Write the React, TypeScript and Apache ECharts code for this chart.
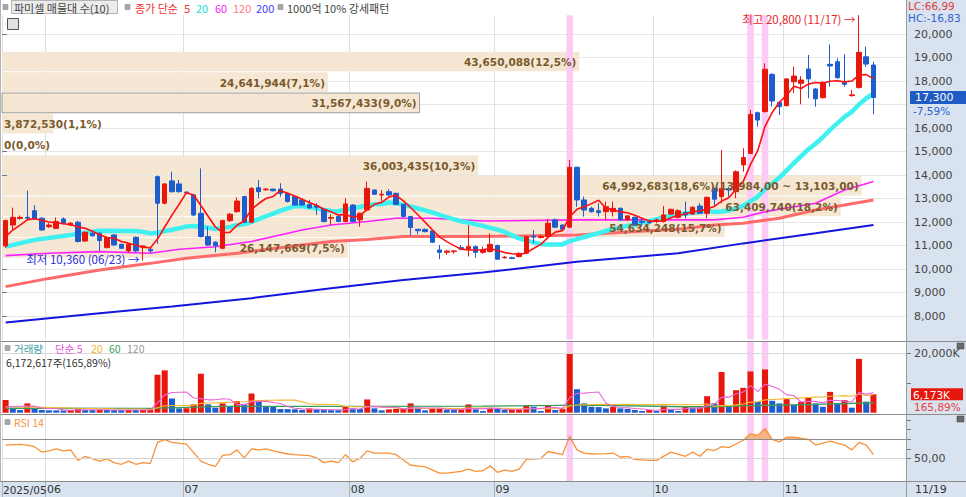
import React, { useEffect, useRef } from "react";
import * as echarts from "echarts";

// ---------- dates ----------
const YEAR = 2025;
const months = [5, 6, 7, 8, 9, 10, 11];
const tradingDays = [
  [23, 26, 27, 28, 29, 30],
  [2, 4, 5, 9, 10, 11, 12, 13, 16, 17, 18, 19, 20, 23, 24, 25, 26, 27, 30],
  [1, 2, 3, 4, 7, 8, 9, 10, 11, 14, 15, 16, 17, 18, 21, 22, 23, 24, 25, 28, 29, 30, 31],
  [1, 4, 5, 6, 7, 8, 11, 12, 13, 14, 18, 19, 20, 21, 22, 25, 26, 27, 28, 29],
  [1, 2, 3, 4, 5, 8, 9, 10, 11, 12, 15, 16, 17, 18, 19, 22, 23, 24, 25, 26, 29, 30],
  [1, 2, 10, 13, 14, 15, 16, 17, 20, 21, 22, 23, 24, 27, 28, 29, 30, 31],
  [3, 4, 5, 6, 7, 10, 11, 12, 13, 14, 17, 18, 19],
];
const EMPTY_SLOTS = 4;
const patternDays = ["09/15", "10/27", "10/29"];

// ---------- prices ----------
const opens = [10980,11870,12150,12200,12480,12160,11800,11730,12130,11870, 11990,11190,11520,11520,10910,11450,11050,10770,11350,10910, 10840,13930,12800,13750,13620,13270,13150,12370,11380,11140, 10880,12060,12440,13080,11990,13460,13370,13400,13400,13220, 13080,12940,12750,12700,12540,12160,12230,12020,12720,12090, 12510,13360,13150,13290,13220,12750,12230,11690,11690,11620, 10810,10710,10740,10910,10850,10950,10710,10740,11000,10480, 10480,10530,10670,11400,11340,11380,12090,11870,11780,14330, 12940,12580,12480,12440,12440,12580,12090,12200,12030,12000, 12030,12020,12340,12200,12400,12340,12680,12370,13430,13080, 13420,13290,14430,14920,16650,16700,18280,17090,16950,17970, 17900,18510,17660,17290,18710,18820,17930,17380,17720,19030, 18680];
const closes = [12060,12200,12200,12160,12120,11660,11870,12020,11950,11950, 11170,11560,11410,11210,11340,11020,10880,11050,10770,10980, 10770,12800,13620,13290,13290,13240,12300,11380,11020,11000, 12060,12330,12890,11990,13430,13290,13400,13330,13220,12870, 12720,12720,12610,12630,12020,12190,12020,12770,12020,12370, 13430,13180,13180,13150,12750,12230,11770,11630,11590,11140, 10710,10760,10770,10850,10950,10710,10810,11050,10420,10500, 10450,10670,11380,11360,11380,11950,11780,11690,14330,12940, 12510,12440,12400,12650,12580,12090,12260,11870,11990,11970, 12090,12300,12540,12480,12300,12630,12370,13050,12970,13430, 13360,14140,14740,16580,16340,18500,17150,16910,18090,18210, 18040,18090,17240,17940,18640,18140,17860,17410,19220,18720, 17300];
const lows = [10900,11660,12100,12090,12090,11620,11750,11700,11900,11830, 11130,11150,11380,10770,10880,10990,10850,10700,10730,10360, 10670,11070,12750,13250,13250,13200,12250,11340,10990,10710, 10840,12000,12400,11950,11950,13010,13330,13300,13080,12830, 12700,12680,12560,12300,11980,11870,11990,11990,11990,11800, 12480,13150,12890,13100,12720,12200,11420,11480,11560,11100, 10420,10600,10650,10800,10530,10480,10650,10700,10400,10440, 10420,10500,10640,11100,11300,11340,11740,11650,11740,12650, 12230,12400,12230,12090,12230,12050,12050,11840,11800,11900, 11950,11980,12300,12150,12150,12300,12340,12160,12650,12800, 13080,13010,14140,14900,16060,16650,16910,16550,16920,17480, 17010,17260,16910,17250,17760,18100,17760,17330,17680,18600, 16580];
const highs = [12100,12610,12280,13330,12720,12200,11950,12190,12200,12000, 12050,11600,11560,11560,11380,11480,11080,11100,11380,11020, 10950,13980,13650,14140,13790,13300,13200,14280,11800,11180, 12100,12380,13050,13120,13480,13790,13450,13420,13650,13250, 13100,12980,12940,12800,12580,12330,12260,13010,12760,12400, 13720,13390,13360,13400,13250,12780,12260,11700,11720,11650, 11020,10810,10810,11020,11870,11000,10950,11520,11040,10560, 10520,10700,11420,11660,11450,12130,12150,11900,14640,14350, 13080,12650,12800,12870,12870,12620,12290,12230,12160,12100, 12150,12680,12570,12540,12870,12660,12800,13080,13470,15060, 13500,14200,15140,16770,16700,18750,18330,17120,18120,18610, 18210,19110,17700,17990,19560,18970,19140,17620,20800,19460, 18820];

// ---------- volume (thousand shares) ----------
const vols = [4235,1460,900,3130,1460,900,800,780,750,900, 1460,900,880,950,900,880,850,950,900,1000, 1100,12790,14240,4790,1460,1500,2790,13120,2790,1680, 3130,2010,3900,2790,6460,3900,2010,1950,1240,1200, 1130,900,1460,900,880,860,840,2010,1460,1240, 4460,1460,790,1130,1300,1400,3130,1240,790,1300, 1400,900,880,1130,2790,1130,570,1680,1240,900, 950,1000,2570,2010,570,2570,900,1240,19790,7900, 3130,2010,1900,1460,2010,1460,1240,900,570,900, 570,2350,1240,570,2010,1680,1750,5570,3130,13680, 2010,7570,8350,13900,3680,14570,4010,3130,4570,2570, 3680,5130,3130,2010,7010,3130,4240,1680,18120,3721, 6172.617];

// ---------- moving averages ----------
const ma5Lead = [11380, 11660, 11870, 12090];
const ma20Lead = [[0, 10950], [4, 11240], [9, 11450], [13, 11630], [18, 11620]];
const ma60Pts = [[0,10570],[6,10670],[13,10740],[20,10670],[24,10840],[29,10950],[34,11170],[41,11660],[45,11870],[50,12020],[54,12160],[59,12160],[66,12040],[79,12090],[89,12090],[98,12090],[102,12200],[105,12440],[112,12800],[116,13360],[120,13720]];
const ma120Pts = [[0,9250],[6,9600],[13,9960],[20,10240],[25,10460],[32,10670],[39,10950],[45,11170],[50,11260],[55,11380],[66,11380],[79,11450],[89,11630],[93,11690],[98,11870],[102,11950],[107,12160],[112,12510],[120,12940]];
const ma200Pts = [[0,7720],[13,8120],[23,8400],[34,8760],[45,9180],[55,9530],[66,9850],[79,10310],[93,10670],[102,11090],[112,11520],[120,11870]];
const volMa5Lead = [2000, 2100, 2150, 2200];
const volMa20Lead = [[0, 2000], [5, 1800], [10, 1500], [15, 1300], [18, 1250]];
const volMa60Pts = [[0,1500],[20,1450],[30,2100],[47,2100],[66,2240],[80,2570],[94,2010],[98,2010],[103,2350],[112,2790],[120,3350]];

// ---------- RSI 14 ----------
const rsiPts = [[0,64],[2,64.7],[3,64],[4,62.3],[5,56.7],[6,58],[7,60],[8,58],[9,59],[10,48],[11,52.3],[13,47.3],[14,49.7],[15,45.7],[16,44],[17,47.3],[18,44],[19,45.7],[20,44.7],[21,66.7],[22,69.7],[23,66.7],[25,65],[27,47.3],[28,44],[29,41.7],[30,53.3],[31,54],[32,59],[33,50.7],[34,60],[35,59],[36,60],[37,58],[39,54.7],[40,54],[42,53],[43,50.7],[44,45.7],[45,47.3],[46,45.7],[47,54],[48,46.7],[49,50],[50,58],[51,55.7],[53,55.7],[54,54],[56,43],[57,42.3],[58,41.3],[60,34.7],[61,34.7],[63,36.7],[64,39],[65,36.7],[66,37.3],[67,42.3],[68,35.7],[69,38],[70,36.7],[71,39],[72,49],[74,50],[75,57.3],[77,54],[78,73.3],[79,59],[80,55.7],[81,54.7],[83,55],[84,55.7],[85,51.3],[86,52.3],[87,49],[89,48],[90,48],[92,56.7],[94,52.3],[95,56.7],[96,52.3],[97,59.7],[98,58.3],[99,62.3],[100,61.3],[102,69],[103,75.7],[104,74],[105,81.3],[106,70],[107,67.3],[108,72.3],[109,72.3],[111,70],[112,64],[114,68],[116,64],[117,59],[118,66.7],[119,64],[120,54]];
const RSI_OB = 70;
const RSI_MID = 50;

// ---------- volume profile (10 bands) ----------
const profEdges = [10460, 11341, 12222, 13103, 13984, 14865, 15746, 16627, 17508, 18389, 19270];
const profVolumes = [26147669, 54634248, 63409740, 64992683, 36003435, 0, 3872530, 31567433, 24641944, 43650088];

// ---------- axis ticks ----------
const priceTicks = [8000, 9000, 10000, 11000, 12000, 13000, 14000, 15000, 16000, 17000, 18000, 19000, 20000];
const volTickMarks = [10000, 20000];
const volLabels = [20000];
const rsiTickMarks = [50, 60, 70, 80, 90];
const rsiLabels = [50];

// ---------- derived ----------
const pad2 = (n: number) => String(n).padStart(2, "0");
const dates: string[] = [];
const monthLabel: Record<number, string> = {};
months.forEach((m, mi) => {
  tradingDays[mi].forEach((d, di) => {
    if (di === 0) monthLabel[dates.length] = mi === 0 ? `${YEAR}/${pad2(m)}` : pad2(m);
    dates.push(`${pad2(m)}/${pad2(d)}`);
  });
});
const cats = [...dates, ...Array.from({ length: EMPTY_SLOTS }, (_, k) => `pad${k}`)];
const highlightIdx = patternDays.map((d) => dates.indexOf(d));

const fmt = (n: number) => Math.round(n).toLocaleString("en-US");
const dec = (n: number, d: number) => n.toFixed(d).replace(".", ",");

const movAvg = (arr: number[], n: number, i: number) => {
  let s = 0;
  for (let k = i - n + 1; k <= i; k++) s += arr[k];
  return s / n;
};
const ma5Line = closes.map((_, i) => [i, i < 4 ? ma5Lead[i] : movAvg(closes, 5, i)]);
const ma20Line = [...ma20Lead, ...closes.map((_, i) => i).filter((i) => i >= 19).map((i) => [i, movAvg(closes, 20, i)])];
const volMa5Line = vols.map((_, i) => [i, i < 4 ? volMa5Lead[i] : movAvg(vols, 5, i)]);
const volMa20Line = [...volMa20Lead, ...vols.map((_, i) => i).filter((i) => i >= 19).map((i) => [i, movAvg(vols, 20, i)])];

const UP = "#e8170c";
const DOWN = "#1d5dcc";
const KR = "'Noto Sans CJK KR', 'Noto Sans', sans-serif";
const NUMF = "'DejaVu Sans', sans-serif";

const lastIdx = closes.length - 1;
const lastClose = closes[lastIdx];
const prevClose = closes[lastIdx - 1];
const lastVol = vols[lastIdx];
const prevVol = vols[lastIdx - 1];
const hiVal = Math.max(...highs);
const hiIdx = highs.indexOf(hiVal);
const loVal = Math.min(...lows);
const loIdx = lows.indexOf(loVal);

const profTotal = profVolumes.reduce((a, b) => a + b, 0);
const profMaxVol = Math.max(...profVolumes);
const profMaxIdx = profVolumes.indexOf(profMaxVol);
const curBand = profEdges.findIndex((e, k) => k < profEdges.length - 1 && lastClose >= e && lastClose < profEdges[k + 1]);
const profData = profVolumes.map((v, k) => [profEdges[k], profEdges[k + 1], v]);
const profLabel = (k: number) => {
  const v = profVolumes[k];
  let s = `${fmt(v)}(${dec((v / profTotal) * 100, 1)}%)`;
  if (k === profMaxIdx) s += `(${fmt(profEdges[k + 1])},00 ~ ${fmt(profEdges[k])},00)`;
  return s;
};

const rsiPairs = rsiPts
  .slice(1)
  .map((p, k) => [rsiPts[k][0], rsiPts[k][1], p[0], p[1]])
  .filter((q) => Math.max(q[1], q[3]) > RSI_OB);

const isMonthStart = (i: number) => i in monthLabel;
const isMonthLabel = (i: number) => i in monthLabel && i !== 0;

function buildOption(): any {
  const monthSplit = {
    show: true,
    interval: isMonthStart,
    lineStyle: { color: "#e0e0e0", width: 1 },
  };
  const catAxis = (gridIndex: number, extra: any) => ({
    type: "category",
    gridIndex,
    data: cats,
    boundaryGap: true,
    axisLine: { show: false },
    axisTick: { show: false },
    axisLabel: { show: false },
    splitLine: { show: false },
    ...extra,
  });
  const rightLabel = { color: "#444", fontSize: 11, fontFamily: NUMF, margin: 8 };
  const rightTick = { show: true, length: 5, lineStyle: { color: "#777" } };
  const line = (xi: number, yi: number, data: any, color: string, width: number, z: number) => ({
    type: "line",
    xAxisIndex: xi,
    yAxisIndex: yi,
    data,
    z,
    symbol: "none",
    showSymbol: false,
    silent: true,
    lineStyle: { color, width },
  });

  return {
    animation: false,
    backgroundColor: "transparent",
    grid: [
      { left: 2, right: 60, top: 15.2, height: 324.3 },
      { left: 2, right: 60, top: 342, height: 70.7 },
      { left: 2, right: 60, top: 414.5, height: 66.5 },
    ],
    xAxis: [
      catAxis(0, { splitLine: monthSplit }),
      { type: "value", gridIndex: 0, min: 0, max: profMaxVol / 0.951, show: false },
      catAxis(0, { show: false }),
      catAxis(1, { splitLine: monthSplit }),
      catAxis(1, { show: false }),
      catAxis(2, {
        splitLine: monthSplit,
        axisTick: { show: true, interval: isMonthStart, length: 16, lineStyle: { color: "#a8b4c0" } },
        axisLabel: {
          show: true,
          interval: isMonthLabel,
          formatter: (_v: string, i: number) => monthLabel[i] || "",
          align: "left",
          margin: 3,
          color: "#333",
          fontSize: 11,
          fontFamily: NUMF,
          padding: [0, 0, 0, -2],
        },
      }),
      catAxis(2, { show: false }),
    ],
    yAxis: [
      {
        type: "value", gridIndex: 0, position: "right", min: 7000, max: 20800, interval: 1000,
        axisLine: { show: false },
        axisTick: { ...rightTick, customValues: priceTicks },
        axisLabel: {
          ...rightLabel,
          customValues: priceTicks.filter((v) => Math.abs(v - lastClose) >= 600),
          formatter: (v: number) => (priceTicks.includes(v) && Math.abs(v - lastClose) >= 600 ? fmt(v) : ""),
        },
        splitLine: { show: true, lineStyle: { color: "#e6e6e6" } },
      },
      { type: "value", gridIndex: 0, min: 0, max: 1, show: false },
      {
        type: "value", gridIndex: 1, position: "right", min: 0, max: 23800,
        axisLine: { show: false },
        axisTick: { ...rightTick, customValues: volTickMarks },
        axisLabel: { ...rightLabel, customValues: volLabels, formatter: (v: number) => (volLabels.includes(v) ? `${fmt(v)}K` : "") },
        splitLine: { show: false },
      },
      { type: "value", gridIndex: 1, min: 0, max: 1, show: false },
      {
        type: "value", gridIndex: 2, position: "right", min: 26.6, max: 95.8,
        axisLine: { show: false },
        axisTick: { ...rightTick, customValues: rsiTickMarks },
        axisLabel: { ...rightLabel, customValues: rsiLabels, formatter: (v: number) => (rsiLabels.includes(v) ? dec(v, 2) : "") },
        splitLine: { show: false },
      },
      { type: "value", gridIndex: 2, min: 0, max: 1, show: false },
    ],
    series: [
      // ---- price panel ----
      {
        type: "custom", xAxisIndex: 1, yAxisIndex: 0, z: 1, silent: true, clip: false,
        data: profData, encode: { x: 2, y: [0, 1] },
        renderItem: (params: any, api: any) => {
          const k = params.dataIndex;
          const a = api.coord([0, api.value(1)]);
          const b = api.coord([api.value(2), api.value(0)]);
          return {
            type: "rect",
            shape: { x: a[0], y: a[1] + 0.5, width: Math.max(0, b[0] - a[0]), height: b[1] - a[1] - 1 },
            style: { fill: "#f5e7d4", stroke: k === curBand ? "#9c9c9c" : "none", lineWidth: 1 },
          };
        },
      },
      {
        type: "bar", xAxisIndex: 2, yAxisIndex: 1, z: 2, silent: true, barWidth: "90%",
        data: cats.map((_, i) => (highlightIdx.includes(i) ? 1 : "-")),
        itemStyle: { color: "#fbcbf5" },
      },
      line(0, 0, ma200Pts, "#1515e0", 2, 3),
      line(0, 0, ma120Pts, "#ff6b6b", 3, 3),
      line(0, 0, ma60Pts, "#ff20ff", 1.6, 3),
      line(0, 0, ma20Line, "#3ef0f0", 4.5, 3),
      {
        type: "candlestick", xAxisIndex: 0, yAxisIndex: 0, z: 4, silent: true, barWidth: 5,
        data: opens.map((o, i) => [o, closes[i], lows[i], highs[i]]),
        itemStyle: { color: UP, color0: DOWN, borderColor: UP, borderColor0: DOWN, borderWidth: 1 },
        markPoint: {
          symbol: "rect", symbolSize: 1, silent: true,
          itemStyle: { color: "rgba(0,0,0,0)" },
          data: [
            {
              coord: [hiIdx, hiVal],
              label: { show: true, position: "left", distance: 3, offset: [0, 4], formatter: `최고 ${fmt(hiVal)} (${dates[hiIdx]}) →`, color: "#e8262c", fontSize: 11.5, fontFamily: KR },
            },
            {
              coord: [loIdx, loVal],
              label: { show: true, position: "left", distance: 3, offset: [0, -2], formatter: `최저 ${fmt(loVal)} (${dates[loIdx]}) →`, color: "#2b2bd6", fontSize: 11.5, fontFamily: KR },
            },
          ],
        },
      },
      line(0, 0, ma5Line, "#ff1010", 1.6, 5),
      {
        type: "custom", xAxisIndex: 1, yAxisIndex: 0, z: 6, silent: true, clip: false,
        data: profData, encode: { x: 2, y: [0, 1] },
        renderItem: (params: any, api: any) => {
          const k = params.dataIndex;
          const a = api.coord([0, api.value(1)]);
          const b = api.coord([api.value(2), api.value(0)]);
          const text = profLabel(k);
          const estW = text.length * 6.1;
          const fits = b[0] - a[0] - 6 >= estW;
          return {
            type: "text",
            style: {
              text,
              x: fits ? b[0] - 3 : a[0] + 2,
              y: (a[1] + b[1]) / 2 + 0.5,
              fill: "#7a5a2c",
              font: `bold 10.5px ${NUMF}`,
              align: fits ? "right" : "left",
              verticalAlign: "middle",
            },
          };
        },
      },
      // ---- volume panel ----
      {
        type: "bar", xAxisIndex: 4, yAxisIndex: 3, z: 1, silent: true, barWidth: "90%",
        data: cats.map((_, i) => (highlightIdx.includes(i) ? 1 : "-")),
        itemStyle: { color: "#fbcbf5" },
      },
      {
        type: "bar", xAxisIndex: 3, yAxisIndex: 2, z: 2, silent: true, barWidth: 6,
        data: vols.map((v, i) => ({ value: v, itemStyle: { color: i === 0 || v > vols[i - 1] ? UP : DOWN } })),
        markLine: {
          silent: true, symbol: ["none", "none"], label: { show: false },
          lineStyle: { color: "#d8d8d8", type: "solid", width: 1 },
          data: [{ yAxis: volLabels[0] }],
        },
      },
      line(3, 2, volMa60Pts, "#3c9c5c", 1.3, 3),
      line(3, 2, volMa20Line, "#f5b935", 1.1, 3),
      line(3, 2, volMa5Line, "#e866d8", 1.1, 4),
      // ---- RSI panel ----
      {
        type: "bar", xAxisIndex: 6, yAxisIndex: 5, z: 1, silent: true, barWidth: "90%",
        data: cats.map((_, i) => (highlightIdx.includes(i) ? 1 : "-")),
        itemStyle: { color: "#fbcbf5" },
      },
      {
        type: "custom", xAxisIndex: 5, yAxisIndex: 4, z: 3, silent: true,
        data: rsiPairs, encode: { x: [0, 2], y: [1, 3] },
        renderItem: (_params: any, api: any) => {
          const i1 = api.value(0), v1 = api.value(1), i2 = api.value(2), v2 = api.value(3);
          const p1 = api.coord([i1, v1]);
          const p2 = api.coord([i2, v2]);
          const b1 = api.coord([i1, RSI_OB]);
          const b2 = api.coord([i2, RSI_OB]);
          let pts: number[][];
          if (v1 >= RSI_OB && v2 >= RSI_OB) pts = [b1, p1, p2, b2];
          else {
            const t = (v1 - RSI_OB) / (v1 - v2);
            const c = [p1[0] + t * (p2[0] - p1[0]), b1[1]];
            pts = v1 >= RSI_OB ? [b1, p1, c] : [c, p2, b2];
          }
          return { type: "polygon", shape: { points: pts }, style: { fill: "#f5b284" } };
        },
      },
      {
        ...line(5, 4, rsiPts, "#f7923a", 1.3, 4),
        markLine: {
          silent: true, symbol: ["none", "none"], label: { show: false },
          data: [
            { yAxis: RSI_OB, lineStyle: { color: "#8c8c8c", type: "solid", width: 1 } },
            { yAxis: RSI_MID, lineStyle: { color: "#d4d4d4", type: "solid", width: 1 } },
          ],
        },
      },
    ],
  };
}

function buildGraphics(yLast: number, yVol: number): any[] {
  const txt = (text: string, x: number, y: number, fill: string, size = 11, family = KR, extra: any = {}) => ({
    type: "text", z: 60, silent: true, x, y,
    style: { text, fill, font: `${size}px ${family}`, verticalAlign: "middle", textVerticalAlign: "middle", lineHeight: size + 1, ...extra },
  });
  const ln = (x1: number, y1: number, x2: number, y2: number, stroke: string) => ({
    type: "line", z: 55, silent: true, shape: { x1, y1, x2, y2 }, style: { stroke, lineWidth: 1 },
  });
  const bullet = (x: number, y: number) => ({
    type: "rect", z: 60, silent: true, shape: { x, y: y - 2.5, width: 5, height: 5 }, style: { fill: "#a8a8a8", stroke: "#808080", lineWidth: 0.5 },
  });
  const icon = (x: number, y: number) => ({
    type: "rect", z: 60, silent: true, shape: { x, y, width: 7, height: 6 }, style: { fill: "#6a6a6a", stroke: "#444", lineWidth: 0.5 },
  });
  const pct = ((lastClose - prevClose) / prevClose) * 100;
  return [
    // panel frame
    ln(0, 341.5, 966, 341.5, "#8a8a8a"),
    ln(0, 414.5, 966, 414.5, "#8a8a8a"),
    ln(0, 481.5, 966, 481.5, "#8a8a8a"),
    ln(906.5, 0, 906.5, 497, "#9a9a9a"),
    ln(0.5, 0, 0.5, 481, "#b5b5b5"),
    // price legend
    bullet(3, 7),
    { type: "rect", z: 59, silent: true, shape: { x: 11.5, y: 0.5, width: 106, height: 13 }, style: { fill: "#ececec", stroke: "#b4b4b4", lineWidth: 1 } },
    txt("파미셀 매물대 수(10)", 14, 7.5, "#444"),
    bullet(125, 7),
    txt("종가 단순", 135, 7.5, "#f03030"),
    txt("5", 184, 7.5, "#f03030"),
    txt("20", 196, 7.5, "#22dede"),
    txt("60", 215, 7.5, "#f020f0"),
    txt("120", 233, 7.5, "#ff8080"),
    txt("200", 256, 7.5, "#3c3cff"),
    bullet(278, 7),
    txt("1000억 10% 강세패턴", 287, 7.5, "#444"),
    { type: "rect", z: 60, silent: true, shape: { x: 7.5, y: 18.5, width: 11, height: 11 }, style: { fill: "#e2e2e2", stroke: "#555", lineWidth: 1 } },
    ln(8, 21.5, 18, 21.5, "#555"),
    ln(10.5, 22, 10.5, 29, "#777"),
    ln(13, 22, 13, 29, "#777"),
    ln(15.5, 22, 15.5, 29, "#777"),
    // volume legend
    bullet(5, 348),
    txt("거래량", 14, 348, "#3a9fa8", 10.5),
    txt("단순 5", 55, 348, "#e455d8", 10.5),
    txt("20", 91, 348, "#f5b52e", 10.5),
    txt("60", 109, 348, "#43a15a", 10.5),
    txt("120", 127, 348, "#999", 10.5),
    txt(`${fmt(lastVol * 1000)}주(${dec((lastVol / prevVol) * 100, 2)}%)`, 6, 362.5, "#333", 10.5),
    // RSI legend
    bullet(5, 422),
    txt("RSI 14", 14, 422.5, "#f5913e", 10.5),
    // x-axis first label
    txt(monthLabel[0], 3, 489.5, "#333", 10.5, NUMF),
    // right panel texts
    txt("LC:66,99", 908, 6, "#e03c3c", 10.5, NUMF),
    txt("HC:-16,83", 908, 18, "#2f62d2", 10.5, NUMF),
    { type: "rect", z: 58, silent: true, shape: { x: 910, y: yLast - 6.5, width: 56, height: 13 }, style: { fill: "#1f5bc4" } },
    txt(fmt(lastClose), 915, yLast + 0.5, "#ffffff", 11, NUMF),
    txt(`${dec(pct, 2)}%`, 913, yLast + 13.5, "#2f62d2", 10.5, NUMF),
    { type: "rect", z: 58, silent: true, shape: { x: 911, y: yVol - 6, width: 52, height: 12 }, style: { fill: "#e8170c" } },
    txt(`${fmt(lastVol)}K`, 913, yVol + 0.5, "#ffffff", 10.5, NUMF),
    txt(`${dec((lastVol / prevVol) * 100, 2)}%`, 914, yVol + 12.5, "#e84040", 10.5, NUMF),
    icon(957, 343),
    icon(957, 416),
    txt(dates[lastIdx], 915, 489.5, "#333", 11, NUMF),
  ];
}

export default function App() {
  const ref = useRef<HTMLDivElement>(null);
  useEffect(() => {
    const chart = echarts.init(ref.current as HTMLDivElement, null, { renderer: "svg" });
    chart.setOption(buildOption());
    const yLast = chart.convertToPixel({ yAxisIndex: 0 } as any, lastClose) as unknown as number;
    const yVol = chart.convertToPixel({ yAxisIndex: 2 } as any, lastVol) as unknown as number;
    chart.setOption({ graphic: { elements: buildGraphics(yLast, yVol) } });
    return () => chart.dispose();
  }, []);
  return (
    <div style={{ position: "fixed", left: 0, top: 0, width: 966, height: 497, background: "#ffffff", overflow: "hidden" }}>
      <div style={{ position: "absolute", left: 907, top: 0, width: 59, height: 497, background: "#d8e3ef" }} />
      <div style={{ position: "absolute", left: 0, top: 481, width: 966, height: 16, background: "#d8e3ef" }} />
      <div ref={ref} style={{ position: "absolute", left: 0, top: 0, width: 966, height: 497 }} />
    </div>
  );
}
